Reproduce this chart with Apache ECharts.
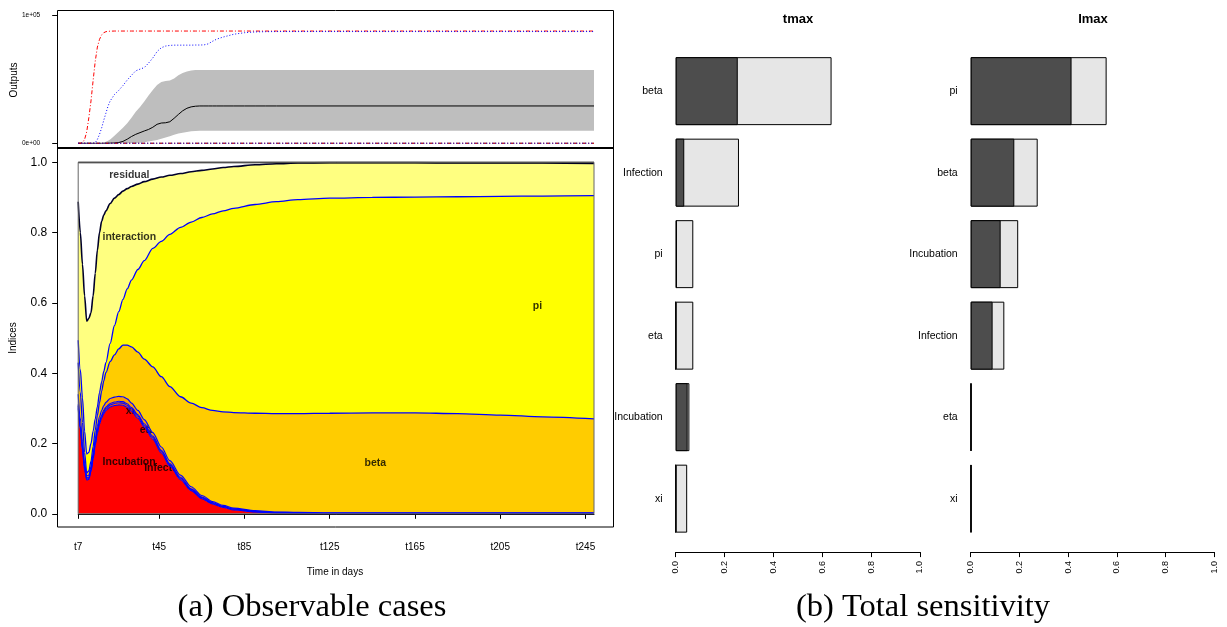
<!DOCTYPE html>
<html><head><meta charset="utf-8">
<script src="https://cdn.jsdelivr.net/npm/echarts@6/dist/echarts.min.js"></script>
<style>html,body{margin:0;padding:0;background:#fff}#c{width:1227px;height:627px}</style>
</head><body><div id="c"></div>
<script>
// ---------- (a) sensitivity indices over time ----------
const days = [7,8,9,10,11,12,13,14,15,16,17,18,19,20,22,24,26,28,30,32,35,38,42,46,50,55,60,65,70,75,80,90,100,110,125,145,165,185,205,225,249];
const incubation = [0.300,0.240,0.180,0.125,0.096,0.098,0.120,0.155,0.195,0.230,0.255,0.272,0.285,0.294,0.304,0.308,0.310,0.309,0.303,0.292,0.272,0.247,0.212,0.173,0.136,0.097,0.066,0.043,0.028,0.018,0.011,0.005,0.002,0.001,0,0,0,0,0,0,0];
const infection = [0.006,0.005,0.004,0.004,0.003,0.003,0.003,0.004,0.005,0.005,0.005,0.005,0.006,0.006,0.006,0.006,0.006,0.006,0.006,0.006,0.006,0.005,0.005,0.005,0.004,0.004,0.003,0.003,0.002,0.002,0.002,0.001,0.001,0.001,0.001,0.001,0.001,0.001,0.001,0.001,0.001];
const xi = [0.005,0.004,0.004,0.003,0.003,0.003,0.003,0.003,0.004,0.004,0.004,0.004,0.004,0.004,0.004,0.004,0.004,0.004,0.004,0.004,0.004,0.004,0.004,0.003,0.003,0.003,0.002,0.002,0.002,0.001,0.001,0.001,0.001,0.001,0.001,0.001,0.001,0.001,0.001,0.001,0.001];
const eta = [0.029,0.023,0.017,0.011,0.006,0.006,0.008,0.009,0.009,0.011,0.012,0.013,0.013,0.013,0.014,0.014,0.014,0.014,0.014,0.013,0.012,0.012,0.010,0.009,0.008,0.006,0.006,0.004,0.003,0.003,0.002,0.002,0.001,0.001,0.001,0.001,0.001,0.001,0.001,0.001,0.001];
const beta = [0.090,0.073,0.055,0.032,0.008,0.012,0.015,0.020,0.025,0.030,0.040,0.055,0.070,0.085,0.105,0.120,0.135,0.147,0.153,0.160,0.166,0.172,0.187,0.200,0.211,0.223,0.238,0.250,0.259,0.266,0.272,0.277,0.280,0.281,0.283,0.284,0.284,0.282,0.278,0.273,0.267];
const pi = [0.064,0.065,0.070,0.060,0.054,0.053,0.051,0.044,0.032,0.025,0.029,0.026,0.027,0.028,0.052,0.083,0.106,0.130,0.160,0.190,0.235,0.280,0.337,0.385,0.433,0.482,0.515,0.541,0.559,0.572,0.581,0.594,0.603,0.609,0.612,0.613,0.614,0.617,0.622,0.628,0.635];
const interaction = [0.394,0.390,0.380,0.385,0.378,0.381,0.372,0.385,0.414,0.445,0.455,0.457,0.445,0.432,0.398,0.363,0.333,0.308,0.285,0.266,0.243,0.225,0.197,0.183,0.168,0.153,0.143,0.134,0.128,0.123,0.119,0.113,0.108,0.104,0.101,0.099,0.098,0.096,0.095,0.094,0.092];
const residual = [0.112,0.200,0.290,0.380,0.452,0.444,0.428,0.380,0.316,0.250,0.200,0.168,0.150,0.138,0.117,0.102,0.092,0.082,0.075,0.069,0.062,0.055,0.048,0.042,0.037,0.032,0.027,0.023,0.019,0.015,0.012,0.007,0.004,0.002,0.001,0.001,0.001,0.002,0.002,0.002,0.003];
const layerNames = ['Incubation','Infection','xi','eta','beta','pi','interaction','residual'];
// where each layer's name is written (day, index value)
const labelDays = [30.9, 48.2, 31.4, 39.4, 146.4, 222.5, 31, 31];
const labelValues = [0.147, 0.131, 0.292, 0.238, 0.145, 0.59, 0.787, 0.964];
const xTickDays = [7,45,85,125,165,205,245];

// ---------- (a) outputs (top strip) ----------
const outDays = [7,8,9,10,11,12,13,14,15,16,17,18,19,20,21,22,24,26,28,30,32,34,36,38,40,42,44,46,48,50,52,54,56,58,60,62,64,66,68,70,72,75,80,85,90,95,100,249];
const outRed = [0,0,500,3000,9000,20000,33000,49000,64000,75000,81000,84500,86200,87000,87300,87400,87500,87500,87500,87500,87500,87500,87500,87500,87500,87500,87500,87500,87500,87500,87500,87500,87500,87500,87500,87500,87500,87500,87500,87500,87500,87500,87500,87500,87500,87500,87500,87500];
const outBlue = [0,0,0,0,0,0,0,0,500,3000,7000,12000,18000,23500,29000,33000,38000,41200,45000,49300,53000,56500,57800,59000,62500,66500,71500,74500,75800,76300,76500,76500,76500,76500,76500,76600,76600,76700,77500,79500,81200,82800,85000,86200,86800,87000,87100,87100];
const outMean = [0,0,0,0,0,0,0,0,0,0,0,0,0,0,0,100,200,600,1500,3200,5300,7000,8300,9600,10800,12500,14800,15800,16000,16800,19500,22500,25300,27300,28400,28900,29100,29100,29100,29100,29100,29100,29100,29100,29100,29100,29100,29100];
const outUpper = [0,0,0,0,0,0,0,0,0,0,0,200,600,1200,2000,3000,5800,9000,12200,15600,20000,24500,28300,32500,37200,41500,45500,47800,48500,49000,50500,53000,54800,56000,56700,57100,57200,57200,57200,57200,57200,57200,57200,57200,57200,57200,57200,57200];
const outLower = [0,0,0,0,0,0,0,0,0,0,0,0,0,0,0,0,0,0,0,100,200,300,500,900,1400,2000,2600,3500,4500,5500,6600,7600,8300,8800,9300,9600,9700,9700,9700,9700,9700,9700,9700,9700,9700,9700,9700,9700];
const minDays = [7,249];
const outRedMin = [0,0];
const outBlueMin = [0,0];
const outBlackMin = [0,0];

// ---------- (b) total sensitivity ----------
const tmaxParams = ['beta','Infection','pi','eta','Incubation','xi'];
const tmaxFirst = [0.254,0.035,0.005,0,0.049,0];
const tmaxTotal = [0.638,0.259,0.072,0.072,0.056,0.047];
const imaxParams = ['pi','beta','Incubation','Infection','eta','xi'];
const imaxFirst = [0.414,0.179,0.123,0.090,0.002,0.002];
const imaxTotal = [0.558,0.275,0.195,0.138,0.003,0.003];

// ---------- build ----------
const SANS = 'Liberation Sans, Arial, Helvetica, sans-serif';
const SERIF = 'Liberation Serif, Times New Roman, serif';
const zip = (xs, ys) => xs.map((x, i) => [x, ys[i]]);
// value first, day second (so that stacking happens on the value dimension)
const zipVX = (xs, ys) => xs.map((x, i) => [ys[i], x]);
const layers = [incubation, infection, xi, eta, beta, pi, interaction, residual];
const layerColors = ['#FF0000','#FF5500','#FF8C00','#FF9F00','#FFCC00','#FFFF00','#FFFF80','#FFFFFF'];
const lineCols = ['#0000FF','#0000FF','#0000FF','#0000FF','#0000FF','#0000FF','#00002A','#000000'];
const lineW = [1.1,1.1,1.1,1.2,1.3,1.3,1.6,1.8];

const series = [];
// top strip
series.push({type:'line', xAxisIndex:0, yAxisIndex:0, stack:'band', symbol:'none', encode:{x:1, y:0}, data: zipVX(outDays, outLower), lineStyle:{width:0}, z:2});
series.push({type:'line', xAxisIndex:0, yAxisIndex:0, stack:'band', symbol:'none', encode:{x:1, y:0}, data: zipVX(outDays, outUpper.map((u,i)=>u-outLower[i])), lineStyle:{width:0}, areaStyle:{color:'#BEBEBE', opacity:1}, z:2});
series.push({type:'line', xAxisIndex:0, yAxisIndex:0, symbol:'none', data: zip(outDays, outMean), lineStyle:{color:'#000', width:1}, z:3});
series.push({type:'line', xAxisIndex:0, yAxisIndex:0, symbol:'none', data: zip(outDays, outRed), lineStyle:{color:'#FF0000', width:1, type:[4,2,1,2]}, z:3});
series.push({type:'line', xAxisIndex:0, yAxisIndex:0, symbol:'none', data: zip(outDays, outBlue), lineStyle:{color:'#0000FF', width:1, type:[1,2]}, z:3});
series.push({type:'line', xAxisIndex:0, yAxisIndex:0, symbol:'none', data: zip(minDays, outBlackMin), lineStyle:{color:'#000', width:1, type:[4,2,1,2]}, z:3});
series.push({type:'line', xAxisIndex:0, yAxisIndex:0, symbol:'none', data: zip(minDays, outRedMin), lineStyle:{color:'#FF0000', width:1, type:[4,2,1,2]}, z:3});
series.push({type:'line', xAxisIndex:0, yAxisIndex:0, symbol:'none', data: zip(minDays, outBlueMin), lineStyle:{color:'#0000FF', width:1, type:[1,2]}, z:3});

// stacked indices: filled layers, their names, then the boundary lines on top
layers.forEach((arr, k) => {
  series.push({type:'line', xAxisIndex:1, yAxisIndex:1, stack:'idx', symbol:'none', smooth:0.3, smoothMonotone:'x',
    encode:{x:1, y:0}, data: zipVX(days, arr), areaStyle:{color: layerColors[k], opacity:1},
    lineStyle:{width:0}, z: 2 + k});
  series.push({type:'scatter', xAxisIndex:1, yAxisIndex:1, symbolSize:1, itemStyle:{color:'rgba(0,0,0,0)'},
    data:[[labelDays[k], labelValues[k]]], z: 2.5 + k,
    label:{show:true, position:'inside', formatter: layerNames[k], fontFamily: SANS, fontWeight:'bold', fontSize:10.5, color:'#000'}});
});
layers.forEach((arr, k) => {
  series.push({type:'line', xAxisIndex:1, yAxisIndex:1, stack:'idxLines', symbol:'none', smooth:0.3, smoothMonotone:'x',
    encode:{x:1, y:0}, data: zipVX(days, arr),
    lineStyle:{color: lineCols[k], width: lineW[k]}, z: 12});
});

// bars
function barPair(ax, total, first) {
  return [
    {type:'bar', xAxisIndex:ax, yAxisIndex:ax, data: total, barGap:'-100%', barCategoryGap:'16.6%',
     itemStyle:{color:'#E6E6E6', borderColor:'#000', borderWidth:1}, z:2},
    {type:'bar', xAxisIndex:ax, yAxisIndex:ax, data: first, barGap:'-100%', barCategoryGap:'16.6%',
     itemStyle:{color:'#4D4D4D', borderColor:'#000', borderWidth:1}, z:3}
  ];
}
series.push(...barPair(2, tmaxTotal, tmaxFirst));
series.push(...barPair(3, imaxTotal, imaxFirst));

const expFmt = v => { const s = Number(v).toExponential(0).split('e'); const e = s[1]; return s[0] + 'e' + e[0] + e.slice(1).padStart(2,'0'); };
const sensX = (g) => ({gridIndex:g, type:'value', min:0, max:1, interval:0.2, offset:12.7,
  axisLine:{show:true, lineStyle:{color:'#000', width:1}}, axisTick:{show:true, length:5, lineStyle:{color:'#000'}},
  axisLabel:{rotate:90, fontSize:9, fontFamily:SANS, color:'#000', margin:9, formatter: v => v.toFixed(1)}, splitLine:{show:false}});
const sensY = (g, names) => ({gridIndex:g, type:'category', data:names, inverse:true,
  axisLine:{show:false}, axisTick:{show:false}, axisLabel:{fontSize:10.5, fontFamily:SANS, color:'#000', margin:13}});

const option = {
  animation:false,
  backgroundColor:'#fff',
  grid:[
    {left:78.2, top:15, width:515.8, height:128.3},
    {left:78.2, top:162.3, width:515.8, height:351.5, show:true, borderColor:'#666', borderWidth:1, backgroundColor:'transparent', z:20},
    {left:675.7, top:50.4, width:244.3, height:489},
    {left:970.7, top:50.4, width:243.6, height:489}
  ],
  xAxis:[
    {gridIndex:0, type:'value', min:7, max:249, show:false},
    {gridIndex:1, type:'value', min:7, max:249, offset:15,
     axisLine:{show:true, lineStyle:{color:'#000'}},
     axisTick:{show:true, customValues:xTickDays, length:5, lineStyle:{color:'#000'}},
     axisLabel:{customValues:xTickDays, formatter: v => 't' + v, fontSize:10, fontFamily:SANS, color:'#000', margin:13},
     splitLine:{show:false}},
    sensX(2), sensX(3)
  ],
  yAxis:[
    {gridIndex:0, type:'value', min:0, max:100000, interval:100000, offset:21,
     axisLine:{show:false}, axisTick:{show:true, length:5, lineStyle:{color:'#000'}},
     axisLabel:{fontSize:6.5, fontFamily:SANS, color:'#000', margin:17, formatter: expFmt}, splitLine:{show:false}},
    {gridIndex:1, type:'value', min:0, max:1, interval:0.2, offset:21,
     axisLine:{show:false}, axisTick:{show:true, length:5, lineStyle:{color:'#000'}},
     axisLabel:{fontSize:12, fontFamily:SANS, color:'#000', margin:10, formatter: v => v.toFixed(1)}, splitLine:{show:false}},
    sensY(2, tmaxParams), sensY(3, imaxParams)
  ],
  series,
  graphic:[
    {type:'rect', shape:{x:57.5, y:10.5, width:556, height:137.5}, style:{fill:null, stroke:'#000', lineWidth:1}, z:100, silent:true},
    {type:'rect', shape:{x:57.5, y:148, width:556, height:379}, style:{fill:null, stroke:'#000', lineWidth:1}, z:100, silent:true},
    {type:'line', shape:{x1:57, y1:148, x2:614, y2:148}, style:{stroke:'#000', lineWidth:2}, z:101, silent:true},
    {type:'text', x:14, y:80, rotation:Math.PI/2, style:{text:'Outputs', font:'10px '+SANS, fill:'#000', textAlign:'center', textVerticalAlign:'middle'}, z:100},
    {type:'text', x:13, y:338, rotation:Math.PI/2, style:{text:'Indices', font:'10px '+SANS, fill:'#000', textAlign:'center', textVerticalAlign:'middle'}, z:100},
    {type:'text', x:335, y:572, style:{text:'Time in days', font:'10px '+SANS, fill:'#000', textAlign:'center', textVerticalAlign:'middle'}, z:100},
    {type:'text', x:798, y:19, style:{text:'tmax', font:'bold 13px '+SANS, fill:'#000', textAlign:'center', textVerticalAlign:'middle'}, z:100},
    {type:'text', x:1093, y:19, style:{text:'Imax', font:'bold 13px '+SANS, fill:'#000', textAlign:'center', textVerticalAlign:'middle'}, z:100},
    {type:'text', x:312, y:607, style:{text:'(a) Observable cases', font:'32.5px '+SERIF, fill:'#000', textAlign:'center', textVerticalAlign:'middle'}, z:100},
    {type:'text', x:923, y:607, style:{text:'(b) Total sensitivity', font:'32.5px '+SERIF, fill:'#000', textAlign:'center', textVerticalAlign:'middle'}, z:100}
  ]
};
const chart = echarts.init(document.getElementById('c'), null, {renderer:'canvas'});
chart.setOption(option);
</script>
</body></html>
